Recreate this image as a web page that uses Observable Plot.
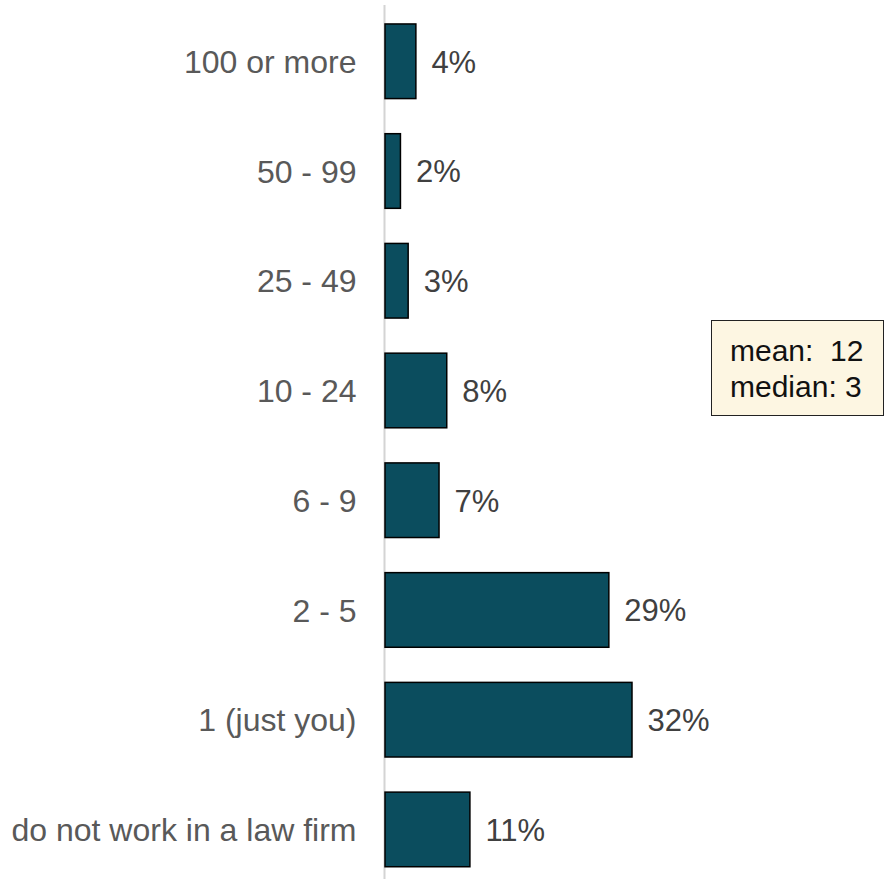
<!DOCTYPE html>
<html>
<head>
<meta charset="utf-8">
<script src="https://cdn.jsdelivr.net/npm/d3@7"></script>
<script src="https://cdn.jsdelivr.net/npm/@observablehq/plot@0.6"></script>
<style>
  html, body { margin: 0; padding: 0; background: #fff; }
  #wrap { position: relative; width: 893px; height: 879px; font-family: "Liberation Sans", Arial, sans-serif; }
  #note {
    position: absolute; left: 711px; top: 320px; width: 173px; height: 96px;
    box-sizing: border-box; background: #fdf6e2; border: 1.5px solid #222;
    padding: 12px 0 0 18px; font-size: 30px; line-height: 36px; color: #111; white-space: pre;
  }
</style>
</head>
<body>
<div id="wrap"></div>
<script>
const categories = ["100 or more", "50 - 99", "25 - 49", "10 - 24", "6 - 9", "2 - 5", "1 (just you)", "do not work in a law firm"];
const shares = [0.04, 0.02, 0.03, 0.08, 0.07, 0.29, 0.32, 0.11];
const noteLines = ["mean:  12", "median: 3"];

const data = categories.map((c, i) => ({cat: c, v: shares[i]}));

const chart = Plot.plot({
  width: 893,
  height: 879,
  marginTop: 5,
  marginBottom: 0,
  marginLeft: 0,
  marginRight: 0,
  style: {fontFamily: "'Liberation Sans', Arial, sans-serif", background: "#fff", overflow: "hidden"},
  x: {domain: [0, 0.32], range: [385, 632], axis: null},
  y: {domain: categories, range: [6.4, 884.3], paddingInner: 0.32, paddingOuter: 0.16, round: false, axis: null},
  marks: [
    Plot.ruleX([0], {stroke: "#d4d4d4", strokeWidth: 2, dx: -1}),
    Plot.barX(data, {y: "cat", x: "v", fill: "#0b4d5e", stroke: "#000", strokeWidth: 1.5}),
    Plot.text(data, {y: "cat", x: 0, text: "cat", textAnchor: "end", dx: -29, dy: 1, fontSize: 32, fill: "#595959"}),
    Plot.text(data, {y: "cat", x: "v", text: d => Math.round(d.v * 100) + "%", textAnchor: "start", dx: 15, dy: 1, fontSize: 31, fill: "#404040"})
  ]
});

const wrap = document.getElementById("wrap");
wrap.appendChild(chart);
const note = document.createElement("div");
note.id = "note";
note.textContent = noteLines.join("\n");
wrap.appendChild(note);
</script>
</body>
</html>
